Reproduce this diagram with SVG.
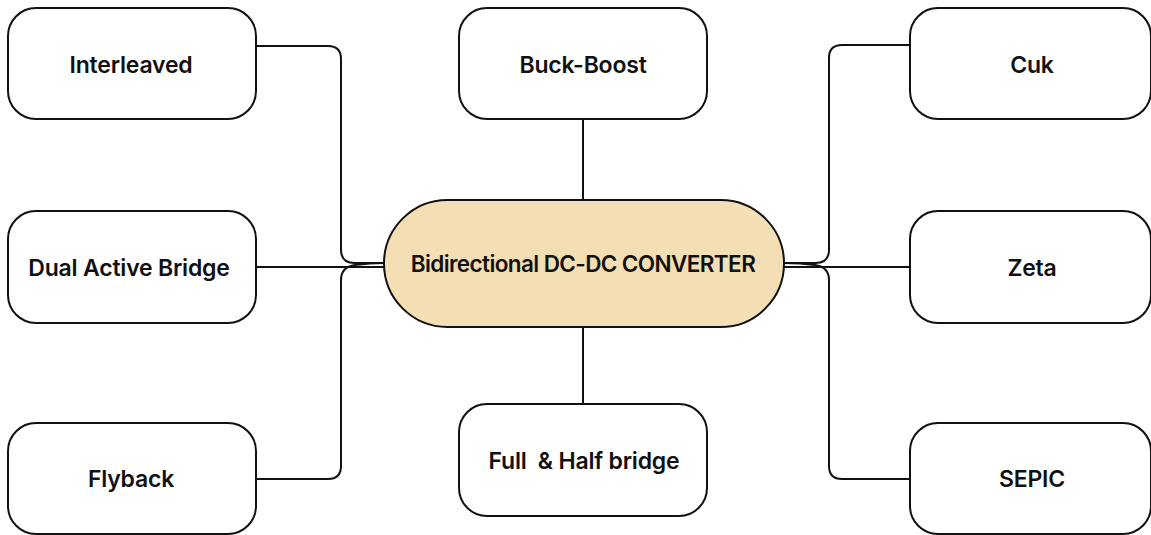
<svg xmlns="http://www.w3.org/2000/svg" width="1151" height="535" viewBox="0 0 1151 535">
<style>
.box{fill:#ffffff;stroke:#111111;stroke-width:2}
.hub{fill:#F3DFB3;stroke:#111111;stroke-width:2}
.lbl{font-family:Inter,"Liberation Sans",sans-serif;font-weight:600;font-size:23px;fill:#111111;text-anchor:middle;letter-spacing:-0.2px}
.hubl{font-family:Inter,"Liberation Sans",sans-serif;font-weight:600;font-size:22.5px;fill:#111111;text-anchor:middle;letter-spacing:-0.6px}
.wire{fill:none;stroke:#111111;stroke-width:2}
</style>
<rect width="1151" height="535" fill="#ffffff"/>
<g id="connectors">
<path class="wire" d="M257,46 H328 Q341,46 341,59 V250 Q341,263 355,263 H384"/>
<path class="wire" d="M257,267 H384"/>
<path class="wire" d="M257,479 H328 Q341,479 341,466 V280 Q341,267 355,265 Q370,263 384,263"/>
<path class="wire" d="M910,45 H842 Q829,45 829,58 V250 Q829,263 815,263 H784"/>
<path class="wire" d="M910,267 H784"/>
<path class="wire" d="M910,479 H842 Q829,479 829,466 V280 Q829,267 815,265 Q800,263 784,263"/>
<path class="wire" d="M583,119 V200"/>
<path class="wire" d="M583,327 V404"/>
</g>
<g id="hub">
<rect class="hub" x="384" y="200" width="400" height="127" rx="63.5"/>
<text class="hubl" x="583" y="272">Bidirectional DC-DC CONVERTER</text>
</g>
<g id="interleaved">
<rect class="box" x="8" y="8" width="248" height="111" rx="28"/>
<text class="lbl" x="131" y="73">Interleaved</text>
</g>
<g id="dab">
<rect class="box" x="8" y="211" width="248" height="112" rx="28"/>
<text class="lbl" x="129" y="276">Dual Active Bridge</text>
</g>
<g id="flyback">
<rect class="box" x="8" y="423" width="248" height="111" rx="28"/>
<text class="lbl" x="131" y="487">Flyback</text>
</g>
<g id="buckboost">
<rect class="box" x="459" y="8" width="248" height="111" rx="28"/>
<text class="lbl" x="583" y="73">Buck-Boost</text>
</g>
<g id="fullhalf">
<rect class="box" x="459" y="404" width="248" height="112" rx="28"/>
<text class="lbl" x="584" y="469" xml:space="preserve">Full  &amp; Half bridge</text>
</g>
<g id="cuk">
<rect class="box" x="910" y="8" width="241" height="111" rx="28"/>
<text class="lbl" x="1032" y="73">Cuk</text>
</g>
<g id="zeta">
<rect class="box" x="910" y="211" width="241" height="112" rx="28"/>
<text class="lbl" x="1032" y="276">Zeta</text>
</g>
<g id="sepic">
<rect class="box" x="910" y="423" width="241" height="111" rx="28"/>
<text class="lbl" x="1032" y="487">SEPIC</text>
</g>
</svg>
